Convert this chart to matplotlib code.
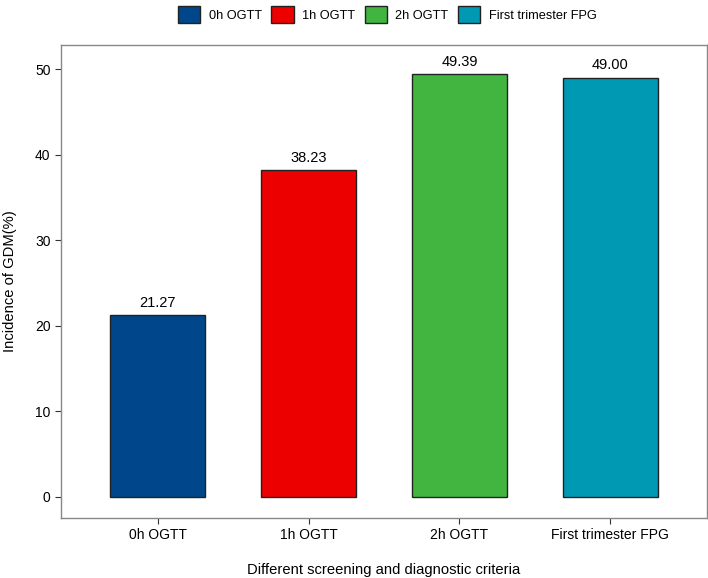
import numpy as np
import matplotlib.pyplot as plt
from matplotlib.patches import Patch

plt.rcParams['font.family'] = ['Liberation Sans', 'DejaVu Sans']

criteria = ["0h OGTT", "1h OGTT", "2h OGTT", "First trimester FPG"]
incidence = [21.27, 38.23, 49.39, 49.00]
colors = ["#00468B", "#ED0000", "#42B540", "#0099B4"]

fig = plt.figure(figsize=(7.08, 5.78), dpi=100)
ax = fig.add_axes([0.0862, 0.104, 0.9124, 0.818])

x = np.arange(1, len(criteria) + 1)
ax.bar(x, incidence, width=0.63, color=colors, edgecolor="#222222", linewidth=1.0)

for xi, v in zip(x, incidence):
    ax.text(xi, v + 0.6, "%.2f" % v, ha="center", va="bottom", fontsize=10.5, color="black")

ax.set_xlim(0.36, 4.64)
ax.set_ylim(-2.45, 52.8)
ax.set_xticks(x)
ax.set_xticklabels(criteria)
ax.set_yticks([0, 10, 20, 30, 40, 50])
ax.tick_params(axis="both", colors="#333333", labelsize=10, length=4, width=0.8, labelcolor="black")
for s in ax.spines.values():
    s.set_color("#888888")
    s.set_linewidth(1.0)

ax.set_xlabel("Different screening and diagnostic criteria", fontsize=10.6, labelpad=15)
ax.set_ylabel("Incidence of GDM(%)", fontsize=10.6, labelpad=13)

handles = [Patch(facecolor=c, edgecolor="#222222", linewidth=1.0) for c in colors]
fig.legend(handles, criteria, loc="upper center", bbox_to_anchor=(0.547, 1.0), ncol=4,
           frameon=False, fontsize=9.2, handlelength=1.75, handleheight=1.75,
           columnspacing=0.75, handletextpad=0.65, borderaxespad=0.05)

fig.savefig("out.png", dpi=100)
